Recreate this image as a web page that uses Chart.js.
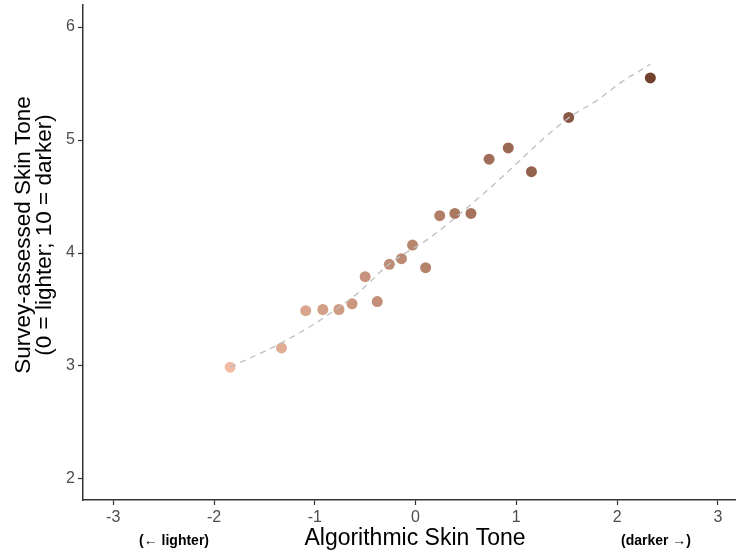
<!DOCTYPE html>
<html>
<head>
<meta charset="utf-8">
<script src="https://cdn.jsdelivr.net/npm/chart.js@4/dist/chart.umd.min.js"></script>
<style>
  body { margin: 0; background: #fff; }
  canvas { display: block; }
</style>
</head>
<body>
<canvas id="skinChart" width="736" height="552"></canvas>
<script>
// algorithmic score vs survey rating, one point per group
var algoTone = [-1.84, -1.33, -1.09, -0.92, -0.76, -0.63, -0.50, -0.38, -0.26, -0.14,
                -0.03, 0.10, 0.24, 0.39, 0.55, 0.73, 0.92, 1.15, 1.52, 2.33];
var surveyTone = [2.99, 3.16, 3.49, 3.50, 3.50, 3.55, 3.79, 3.57, 3.90, 3.95,
                  4.07, 3.87, 4.33, 4.35, 4.35, 4.83, 4.93, 4.72, 5.20, 5.55];

// smoothed trend
var fitX = [-1.84, -1.34, -0.94, -0.58, -0.25, 0.15, 0.68, 1.51, 1.80, 2.04, 2.33];
var fitY = [2.99, 3.20, 3.41, 3.64, 3.91, 4.14, 4.53, 5.19, 5.35, 5.51, 5.67];

var xTicks = [-3, -2, -1, 0, 1, 2, 3];
var yTicks = [2, 3, 4, 5, 6];

var lowColor = [242, 188, 164];
var highColor = [112, 66, 46];

// --- colour scale, blended in Lab like a gradient scale ---
function lin(c) { c /= 255; return c <= 0.04045 ? c / 12.92 : Math.pow((c + 0.055) / 1.055, 2.4); }
function unlin(c) { c = c <= 0.0031308 ? 12.92 * c : 1.055 * Math.pow(c, 1 / 2.4) - 0.055; return Math.max(0, Math.min(255, Math.round(c * 255))); }
function toLab(rgb) {
	var r = lin(rgb[0]), g = lin(rgb[1]), b = lin(rgb[2]);
	var X = (0.4124 * r + 0.3576 * g + 0.1805 * b) / 0.95047;
	var Y = (0.2126 * r + 0.7152 * g + 0.0722 * b);
	var Z = (0.0193 * r + 0.1192 * g + 0.9505 * b) / 1.08883;
	var f = function(t) { return t > 0.008856 ? Math.cbrt(t) : 7.787 * t + 16 / 116; };
	var fx = f(X), fy = f(Y), fz = f(Z);
	return [116 * fy - 16, 500 * (fx - fy), 200 * (fy - fz)];
}
function fromLab(lab) {
	var fy = (lab[0] + 16) / 116, fx = fy + lab[1] / 500, fz = fy - lab[2] / 200;
	var g = function(t) { return t > 0.206893 ? t * t * t : (t - 16 / 116) / 7.787; };
	var X = g(fx) * 0.95047, Y = g(fy), Z = g(fz) * 1.08883;
	var r = 3.2406 * X - 1.5372 * Y - 0.4986 * Z;
	var gg = -0.9689 * X + 1.8758 * Y + 0.0415 * Z;
	var b = 0.0557 * X - 0.2040 * Y + 1.0570 * Z;
	return [unlin(r), unlin(gg), unlin(b)];
}

var labLow = toLab(lowColor), labHigh = toLab(highColor);
var xMin = Math.min.apply(null, algoTone);
var xMax = Math.max.apply(null, algoTone);
function toneColor(v) {
	var t = (v - xMin) / (xMax - xMin);
	var lab = labLow.map(function(lo, i) { return lo + (labHigh[i] - lo) * t; });
	return 'rgb(' + fromLab(lab).join(',') + ')';
}

var points = algoTone.map(function(x, i) { return {x: x, y: surveyTone[i]}; });
var trend = fitX.map(function(x, i) { return {x: x, y: fitY[i]}; });

var FONT = '"Liberation Sans", Arial, Helvetica, sans-serif';

var axisText = {
	id: 'axisText',
	afterDraw: function(chart) {
		var ctx = chart.ctx;
		ctx.save();
		ctx.fillStyle = '#000';
		ctx.textAlign = 'center';
		ctx.textBaseline = 'middle';

		ctx.font = '23px ' + FONT;
		ctx.fillText('Algorithmic Skin Tone', 415, 539);

		ctx.font = 'bold 14px ' + FONT;
		ctx.fillText('(\u2190 lighter)', 174, 541);
		ctx.fillText('(darker \u2192)', 656, 541);

		ctx.translate(0, 235);
		ctx.rotate(-Math.PI / 2);
		ctx.font = '22.5px ' + FONT;
		ctx.textBaseline = 'alphabetic';
		ctx.fillText('Survey-assessed Skin Tone', 0, 30);
		ctx.fillText('(0 = lighter; 10 = darker)', 0, 51);
		ctx.restore();
	}
};

var tickFont = {family: FONT, size: 16};

new Chart(document.getElementById('skinChart'), {
	type: 'scatter',
	data: {
		datasets: [
			{
				type: 'line',
				data: trend,
				borderColor: '#bdbdbd',
				borderWidth: 1.3,
				borderDash: [6, 5],
				pointRadius: 0,
				cubicInterpolationMode: 'monotone',
				fill: false,
				order: 0
			},
			{
				data: points,
				pointRadius: 5.5,
				pointBorderWidth: 0,
				backgroundColor: algoTone.map(toneColor),
				order: 1
			}
		]
	},
	options: {
		responsive: false,
		animation: false,
		layout: {autoPadding: false, padding: {top: 5, right: 0, bottom: 0, left: 0}},
		plugins: {
			legend: {display: false},
			tooltip: {enabled: false}
		},
		scales: {
			x: {
				type: 'linear',
				min: -3.3,
				max: 3.18,
				afterBuildTicks: function(s) { s.ticks = xTicks.map(function(v) { return {value: v}; }); },
				afterFit: function(s) { s.height = 52; s.paddingLeft = 0; s.paddingRight = 0; },
				ticks: {font: tickFont, color: '#4d4d4d', padding: 3, maxRotation: 0},
				grid: {drawOnChartArea: false, drawTicks: true, tickLength: 5, tickColor: '#333', tickWidth: 1.2},
				border: {display: true, color: '#333', width: 1.5}
			},
			y: {
				type: 'linear',
				min: 1.814,
				max: 6.195,
				afterBuildTicks: function(s) { s.ticks = yTicks.map(function(v) { return {value: v}; }); },
				afterFit: function(s) { s.width = 83; s.paddingTop = 0; s.paddingBottom = 0; },
				ticks: {font: tickFont, color: '#4d4d4d', padding: 3},
				grid: {drawOnChartArea: false, drawTicks: true, tickLength: 5, tickColor: '#333', tickWidth: 1.2},
				border: {display: true, color: '#333', width: 1.5}
			}
		}
	},
	plugins: [axisText]
});
</script>
</body>
</html>
